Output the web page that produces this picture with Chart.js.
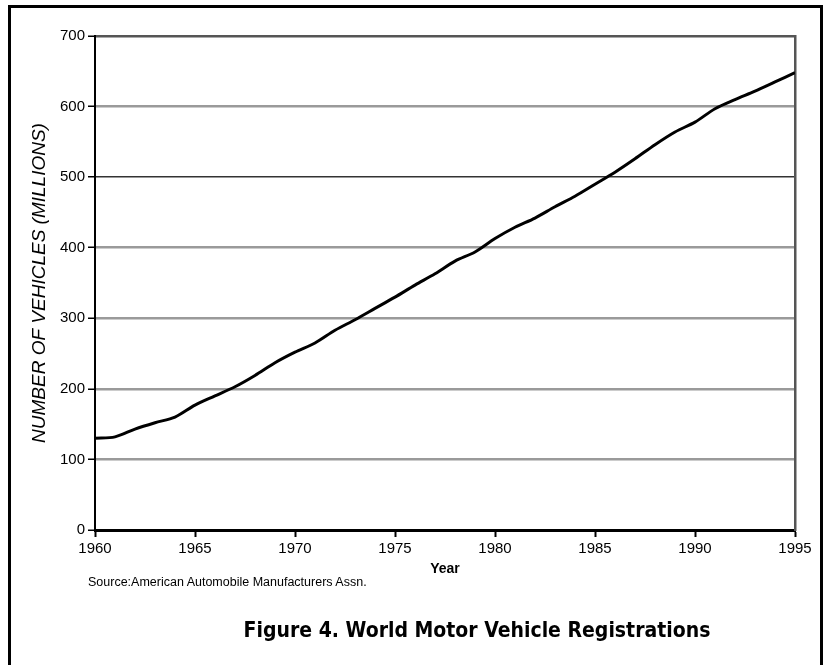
<!DOCTYPE html>
<html>
<head>
<meta charset="utf-8">
<script src="https://cdn.jsdelivr.net/npm/chart.js@4.4.0/dist/chart.umd.min.js"></script>
<style>
  body { margin: 0; background: #fff; }
  #frame { position: absolute; left: 8px; top: 5px; width: 809px; height: 700px; border: 3px solid #000; }
  #chart { position: absolute; left: 0; top: 0; }
  #source { position: absolute; left: 88px; top: 575px; font: 12.5px "Liberation Sans", Arial, sans-serif; color: #000; }
  #figTitle { position: absolute; left: 0; width: 954px; top: 618px; text-align: center;
    font: bold 21px "DejaVu Sans Condensed", "DejaVu Sans", Verdana, sans-serif; color: #000; }
</style>
</head>
<body>
<div id="frame"></div>
<canvas id="chart" width="827" height="665"></canvas>
<div id="source">Source:American Automobile Manufacturers Assn.</div>
<div id="figTitle">Figure 4. World Motor Vehicle Registrations</div>
<script>
// World motor vehicle registrations, millions
const years = [1960, 1961, 1962, 1963, 1964, 1965, 1966, 1967, 1968, 1969,
               1970, 1971, 1972, 1973, 1974, 1975, 1976, 1977, 1978, 1979,
               1980, 1981, 1982, 1983, 1984, 1985, 1986, 1987, 1988, 1989,
               1990, 1991, 1992, 1993, 1994, 1995];
const vehicles = [130, 132, 143, 152, 160, 177, 190, 203, 219, 237,
                  252, 265, 283, 298, 314, 330, 347, 363, 381, 394,
                  413, 429, 442, 458, 473, 490, 507, 526, 546, 564,
                  578, 597, 610, 622, 635, 648];
const xTicks = [1960, 1965, 1970, 1975, 1980, 1985, 1990, 1995];
const yTicks = [0, 100, 200, 300, 400, 500, 600, 700];

const tickFont = { family: '"Liberation Sans", Arial, sans-serif', size: 15 };

new Chart(document.getElementById('chart'), {
    type: 'line',
    data: {
        datasets: [{
            data: years.map((y, i) => ({ x: y, y: vehicles[i] })),
            borderColor: '#000',
            borderWidth: 3,
            pointRadius: 0,
            tension: 0.3,
            fill: false
        }]
    },
    options: {
        responsive: false,
        animation: false,
        layout: { padding: { left: 0, top: 36, right: 32, bottom: 87 } },
        plugins: { legend: { display: false }, tooltip: { enabled: false } },
        scales: {
            x: {
                type: 'linear',
                min: 1960,
                max: 1995,
                afterBuildTicks: s => { s.ticks = xTicks.map(v => ({ value: v })); },
                afterFit: s => { s.height = 48; },
                ticks: { color: '#000', font: tickFont, padding: 3, maxRotation: 0, callback: v => String(v) },
                grid: { drawOnChartArea: false, drawTicks: true, tickLength: 7, tickColor: '#000', tickWidth: 2 },
                border: { color: '#000', width: 3 },
                title: {
                    display: true, text: 'Year', color: '#000',
                    font: { family: '"Liberation Sans", Arial, sans-serif', size: 14, weight: 'bold' },
                    padding: { top: 0, bottom: 0 }
                }
            },
            y: {
                min: 0,
                max: 700,
                afterBuildTicks: s => { s.ticks = yTicks.map(v => ({ value: v })); },
                afterFit: s => { s.width = 95; },
                ticks: { color: '#000', font: tickFont, padding: 3 },
                grid: {
                    color: c => c.tick.value === 500 ? '#333' : (c.tick.value === 700 ? '#555' : '#9a9a9a'),
                    lineWidth: c => c.tick.value === 500 ? 1.5 : 2.5,
                    tickLength: 7, tickColor: '#000', tickWidth: 1.5
                },
                border: { color: '#000', width: 2 },
                title: {
                    display: true, text: 'NUMBER OF VEHICLES (MILLIONS)', color: '#000',
                    font: { family: '"Liberation Sans", Arial, sans-serif', size: 19, style: 'italic' },
                    padding: { top: 28, bottom: 0 }
                }
            },
            y2: {
                position: 'right',
                min: 0,
                max: 700,
                afterFit: s => { s.width = 0; },
                ticks: { display: false },
                grid: { drawOnChartArea: false, drawTicks: false },
                border: { color: '#555', width: 2.5 }
            }
        }
    }
});
</script>
</body>
</html>
